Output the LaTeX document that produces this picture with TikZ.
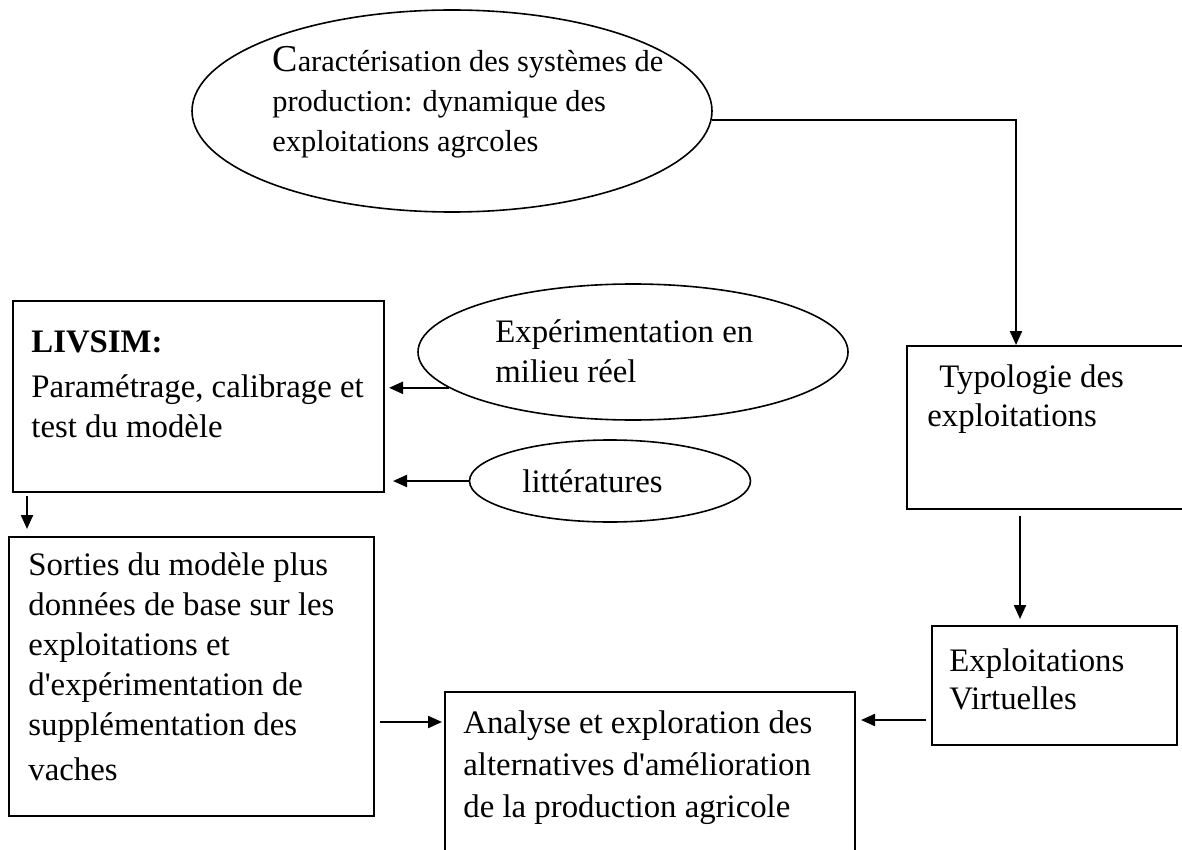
\documentclass[tikz,border=0pt]{standalone}
\usepackage{fontspec}
\setmainfont{Liberation Serif}
\usetikzlibrary{shapes.geometric,arrows.meta}
\begin{document}
\begin{tikzpicture}[x=0.5pt,y=-0.5pt,
  box/.style={draw,line width=1pt,inner sep=0pt},
  ell/.style={draw,ellipse,line width=0.8pt,inner sep=0pt},
  txt/.style={anchor=base west,inner sep=0pt,align=left,font=\fontsize{16.4}{20}\selectfont},
  arr/.style={line width=1.1pt,-{Triangle[length=7pt,width=6pt]}}]
\useasboundingbox (0,0) rectangle (1182,850);

% shapes
\node[ell,minimum width=260pt,minimum height=101pt] (car) at (452,111) {};
\node[ell,minimum width=215pt,minimum height=68pt] (exp) at (633,352) {};
\node[ell,minimum width=140.5pt,minimum height=41pt] (lit) at (610,481) {};
\node[box,minimum width=185.5pt,minimum height=95.5pt] (liv) at (198.5,396.5) {};
\node[box,minimum width=182.5pt,minimum height=139.5pt] (sort) at (191.5,676.5) {};
\node[box,minimum width=138.5pt,minimum height=81.5pt] (typo) at (1045.5,427.5) {};
\node[box,minimum width=122.5pt,minimum height=59.5pt] (ev) at (1054.5,685.5) {};
\node[box,minimum width=205pt,minimum height=89pt] (ana) at (650,781) {};

% texts (anchor = baseline of the last line)
\node[txt,font=\fontsize{15.2}{20}\selectfont] (cart) at (272,152) {{\fontsize{19}{20}\selectfont C}aractérisation des systèmes de\\production: dynamique des\\exploitations agrcoles};
\node[txt] (livt) at (31,437) {\textbf{LIVSIM:}\\[2.5pt]Paramétrage, calibrage et\\test du modèle};
\node[txt] (expt) at (495,382) {Expérimentation en\\milieu réel};
\node[txt] (litt) at (522,492) {littératures};
\node[txt] (typot) at (927,426) {\hspace*{6pt}Typologie des\\[-0.5pt]exploitations};
\node[txt] (evt) at (949,709) {Exploitations\\[-1pt]Virtuelles};
\node[txt] (anat) at (463,817) {Analyse et exploration des\\[1pt]alternatives d\textquotesingle amélioration\\[1pt]de la production agricole};
\node[txt] (sortt) at (28,780) {Sorties du modèle plus\\données de base sur les\\exploitations et\\d\textquotesingle expérimentation de\\supplémentation des\\[2.5pt]vaches};

% connectors
\draw[arr] (car.-2.4) -| ([xshift=-14.75pt]typo.north);
\draw[arr,shorten <=3pt,shorten >=3pt] ([xshift=-12.75pt]typo.south) -- ([xshift=-12.75pt]typo.south |- ev.north);
\draw[arr,shorten <=2.5pt,shorten >=2.5pt] ([yshift=-17.25pt]ev.west) -- ([yshift=-17.25pt]ev.west -| ana.east);
\draw[arr,shorten <=2.5pt,shorten >=1pt] ([yshift=-22.75pt]sort.east) -- ([yshift=-22.75pt]sort.east -| ana.west);
\draw[arr,shorten <=1.5pt,shorten >=3.5pt] ([xshift=-85.75pt]liv.south) -- ([xshift=-85.75pt]liv.south |- sort.north);
\draw[arr,shorten >=2pt] (exp.191) -- (exp.191 -| liv.east);
\draw[arr,shorten >=4pt] (lit.west) -- (lit.west -| liv.east);
\end{tikzpicture}
\end{document}
